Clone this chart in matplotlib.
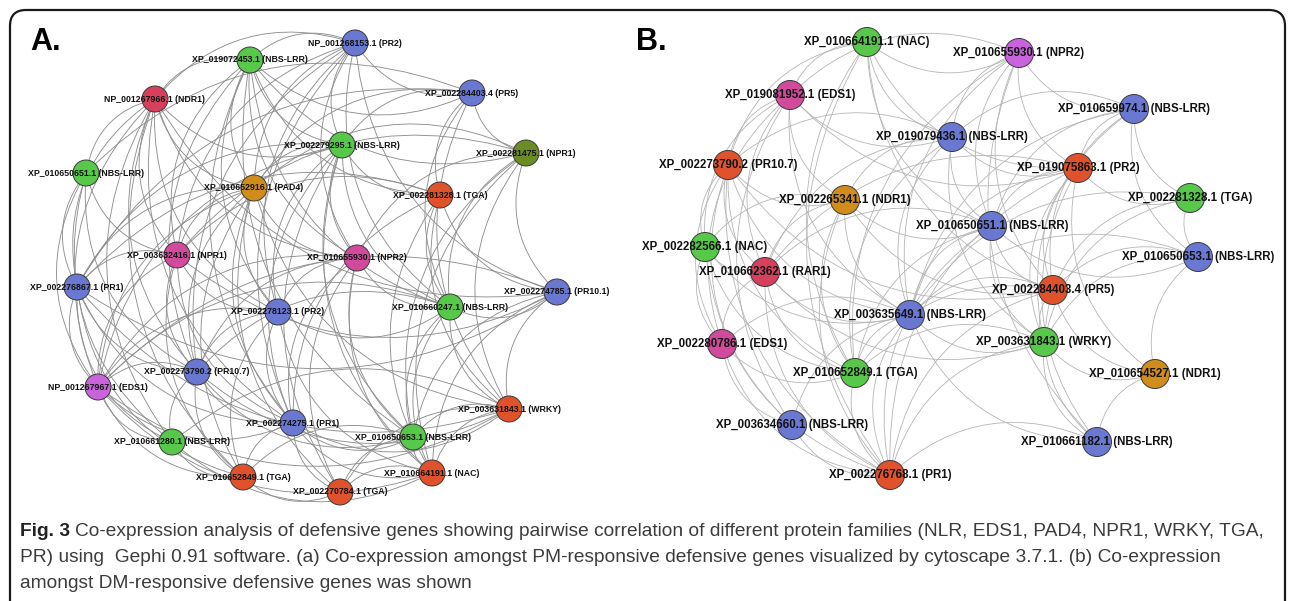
import matplotlib
matplotlib.use("Agg")
import matplotlib.pyplot as plt
from matplotlib.patches import Circle, FancyArrowPatch, FancyBboxPatch

COLORS = {
    'blue': '#6b78d2',
    'green': '#58c84a',
    'red': '#e0522c',
    'crimson': '#d6405c',
    'orange': '#d18d1c',
    'magenta': '#d14a9c',
    'violet': '#c964dc',
    'olive': '#6b8c24',
}

# ---- panel A (PM-responsive) ----
A_LABELS = ["NP_001268153.1 (PR2)", "XP_019072453.1 (NBS-LRR)", "XP_002284403.4 (PR5)",
            "NP_001267966.1 (NDR1)", "XP_002279295.1 (NBS-LRR)", "XP_002281475.1 (NPR1)",
            "XP_010650651.1 (NBS-LRR)", "XP_010652916.1 (PAD4)", "XP_002281328.1 (TGA)",
            "XP_003632416.1 (NPR1)", "XP_010655930.1 (NPR2)", "XP_002276867.1 (PR1)",
            "XP_002278123.1 (PR2)", "XP_010660247.1 (NBS-LRR)", "XP_002274785.1 (PR10.1)",
            "XP_002273790.2 (PR10.7)", "NP_001267967.1 (EDS1)", "XP_002274275.1 (PR1)",
            "XP_003631843.1 (WRKY)", "XP_010650653.1 (NBS-LRR)", "XP_010661280.1 (NBS-LRR)",
            "XP_010652849.1 (TGA)", "XP_010664191.1 (NAC)", "XP_002270784.1 (TGA)"]
A_X = [355, 250, 472, 155, 342, 526, 86, 254, 440, 177, 357, 77,
       278, 450, 557, 197, 98, 293, 509, 413, 172, 243, 432, 340]
A_Y = [43, 60, 93, 99, 145, 153, 173, 188, 195, 255, 258, 287,
       312, 307, 292, 372, 387, 423, 409, 437, 442, 477, 473, 492]
A_KIND = ['blue', 'green', 'blue', 'crimson', 'green', 'olive', 'green', 'orange',
          'red', 'magenta', 'magenta', 'blue', 'blue', 'green', 'blue', 'blue',
          'violet', 'blue', 'red', 'green', 'green', 'red', 'red', 'red']
A_EDGES = [(0, 1), (0, 2), (0, 4), (0, 3), (0, 7), (0, 10), (0, 12), (0, 14), (0, 15), (0, 17), (0, 13), (0, 9),
           (1, 3), (1, 4), (1, 7), (1, 8), (1, 10), (1, 12), (1, 13), (1, 15), (1, 17), (1, 19), (1, 2), (1, 5), (1, 9),
           (2, 4), (2, 5), (2, 8), (2, 13), (2, 6), (2, 11), (2, 18), (2, 7),
           (3, 6), (3, 7), (3, 9), (3, 11), (3, 12), (3, 15), (3, 16), (3, 17), (3, 20), (3, 21), (3, 4), (3, 10), (3, 14),
           (4, 7), (4, 8), (4, 10), (4, 12), (4, 13), (4, 17), (4, 19), (4, 22), (4, 11), (4, 16), (4, 23),
           (5, 13), (5, 14), (5, 18), (5, 19), (5, 22), (5, 10), (5, 7), (5, 9),
           (6, 11), (6, 16), (6, 15), (6, 9), (6, 20),
           (7, 9), (7, 10), (7, 12), (7, 15), (7, 16), (7, 17), (7, 21), (7, 11), (7, 18), (7, 23),
           (8, 13), (8, 14), (8, 18), (8, 22), (8, 9), (8, 11), (8, 17),
           (9, 11), (9, 15), (9, 16), (9, 12), (9, 17), (9, 14), (9, 21),
           (10, 12), (10, 13), (10, 15), (10, 17), (10, 19), (10, 22), (10, 16), (10, 23),
           (11, 16), (11, 15), (11, 17), (11, 20), (11, 14), (11, 21), (11, 18),
           (12, 15), (12, 17), (12, 13), (12, 16), (12, 21), (12, 22),
           (13, 14), (13, 18), (13, 19), (13, 22), (13, 16), (13, 15),
           (14, 18), (14, 22), (14, 16), (14, 19),
           (15, 16), (15, 17), (15, 20), (15, 21), (15, 19), (15, 18),
           (16, 17), (16, 20), (16, 21), (16, 18), (16, 22),
           (17, 19), (17, 21), (17, 22), (17, 23), (17, 18),
           (18, 19), (18, 22), (18, 20), (18, 23),
           (19, 22), (19, 21), (20, 21), (21, 23), (22, 23), (19, 23), (20, 22)]

# ---- panel B (DM-responsive) ----
B_LABELS = ["XP_010664191.1 (NAC)", "XP_010655930.1 (NPR2)", "XP_019081952.1 (EDS1)",
            "XP_010659974.1 (NBS-LRR)", "XP_019079436.1 (NBS-LRR)", "XP_002273790.2 (PR10.7)",
            "XP_019075863.1 (PR2)", "XP_002265341.1 (NDR1)", "XP_002281328.1 (TGA)",
            "XP_010650651.1 (NBS-LRR)", "XP_002282566.1 (NAC)", "XP_010650653.1 (NBS-LRR)",
            "XP_010662362.1 (RAR1)", "XP_002284403.4 (PR5)", "XP_003635649.1 (NBS-LRR)",
            "XP_002280786.1 (EDS1)", "XP_003631843.1 (WRKY)", "XP_010652849.1 (TGA)",
            "XP_010654527.1 (NDR1)", "XP_003634660.1 (NBS-LRR)", "XP_010661182.1 (NBS-LRR)",
            "XP_002276768.1 (PR1)"]
B_X = [867, 1019, 790, 1134, 952, 728, 1078, 845, 1190, 992, 705,
       1198, 765, 1053, 910, 722, 1044, 855, 1155, 792, 1097, 890]
B_Y = [42, 53, 95, 109, 137, 165, 168, 200, 198, 226, 247,
       257, 272, 290, 315, 344, 342, 373, 374, 425, 442, 475]
B_KIND = ['green', 'violet', 'magenta', 'blue', 'blue', 'red', 'red', 'orange',
          'green', 'blue', 'green', 'blue', 'crimson', 'red', 'blue', 'magenta',
          'green', 'green', 'orange', 'blue', 'blue', 'red']
B_EDGES = [(0, 2), (0, 1), (0, 4), (0, 5), (0, 9), (0, 21), (0, 13), (0, 17), (0, 6),
           (1, 4), (1, 6), (1, 3), (1, 9), (1, 13), (1, 14), (1, 17), (1, 20), (1, 2),
           (2, 5), (2, 4), (2, 7), (2, 10), (2, 12), (2, 15), (2, 14), (2, 6), (2, 19),
           (3, 6), (3, 8), (3, 13), (3, 16), (3, 14), (3, 4), (3, 9), (3, 11),
           (4, 5), (4, 7), (4, 9), (4, 6), (4, 14), (4, 12), (4, 17), (4, 16),
           (5, 10), (5, 12), (5, 15), (5, 7), (5, 14), (5, 21), (5, 17), (5, 13), (5, 19),
           (6, 8), (6, 9), (6, 13), (6, 16), (6, 20), (6, 14), (6, 21), (6, 12), (6, 18),
           (7, 9), (7, 12), (7, 14), (7, 17), (7, 21), (7, 13), (7, 10),
           (8, 11), (8, 13), (8, 16), (8, 14),
           (9, 14), (9, 13), (9, 16), (9, 17), (9, 21), (9, 12), (9, 11),
           (10, 12), (10, 15), (10, 17), (10, 14), (10, 21),
           (11, 13), (11, 18), (11, 16), (11, 14),
           (12, 15), (12, 17), (12, 14), (12, 21), (12, 16),
           (13, 16), (13, 14), (13, 18), (13, 21), (13, 20), (13, 17),
           (14, 16), (14, 17), (14, 21), (14, 20), (14, 19), (14, 15),
           (15, 19), (15, 17), (15, 21),
           (16, 18), (16, 20), (16, 21), (16, 17),
           (17, 21), (18, 20), (20, 21), (19, 21)]

CAPTION_LINES = [
    "Co-expression analysis of defensive genes showing pairwise correlation of different protein families (NLR, EDS1, PAD4, NPR1, WRKY, TGA,",
    "PR) using  Gephi 0.91 software. (a) Co-expression amongst PM-responsive defensive genes visualized by cytoscape 3.7.1. (b) Co-expression",
    "amongst DM-responsive defensive genes was shown",
]


def drawNetwork(ax, xs, ys, labels, kinds, edges, radius, edgeColor, edgeWidth, fontSize, rad):
    for i, j in edges:
        arc = FancyArrowPatch((xs[i], ys[i]), (xs[j], ys[j]),
                              arrowstyle='-', connectionstyle=f"arc3,rad={rad}",
                              shrinkA=0, shrinkB=0, lw=edgeWidth, color=edgeColor, zorder=1)
        ax.add_patch(arc)
    for x, y, label, kind in zip(xs, ys, labels, kinds):
        ax.add_patch(Circle((x, y), radius, facecolor=COLORS[kind],
                            edgecolor='#3a3a3a', lw=0.7, zorder=2))
        ax.text(x, y, label, ha='center', va='center', fontsize=fontSize,
                family='Liberation Sans', weight='bold', color='#111111', zorder=3)


fig = plt.figure(figsize=(12.95, 6.01), dpi=100)
ax = fig.add_axes([0, 0, 1, 1])
ax.set_xlim(0, 1295)
ax.set_ylim(601, 0)
ax.axis('off')

# rounded frame around the whole figure
frame = FancyBboxPatch((10, 10), 1275, 640, boxstyle="round,pad=0,rounding_size=16",
                       facecolor='none', edgecolor='#1a1a1a', lw=1.6, zorder=0)
ax.add_patch(frame)

drawNetwork(ax, A_X, A_Y, A_LABELS, A_KIND, A_EDGES, 13, '#8f8f8f', 0.65, 6.3, 0.33)
drawNetwork(ax, B_X, B_Y, B_LABELS, B_KIND, B_EDGES, 14.5, '#b5b5b5', 0.6, 8.3, 0.33)

ax.text(30, 50, "A.", fontsize=22, weight='bold', family='Liberation Sans', va='baseline')
ax.text(636, 50, "B.", fontsize=22, weight='bold', family='Liberation Sans', va='baseline')

# caption: fit the first line between x=20 and x=1262
renderer = fig.canvas.get_renderer()
capSize = 13.0
head = ax.text(20, 532, "Fig. 3", fontsize=capSize, weight='bold', family='Liberation Sans',
               color='#222222', va='center')
body = ax.text(80, 532, CAPTION_LINES[0], fontsize=capSize, family='Liberation Sans',
               color='#3c3c3c', va='center')
totalPx = head.get_window_extent(renderer).width + 5 + body.get_window_extent(renderer).width
capSize = capSize * 1242 / totalPx
head.set_fontsize(capSize)
body.set_fontsize(capSize)
headEnd = ax.transData.inverted().transform((head.get_window_extent(renderer).x1, 0))[0]
body.set_x(headEnd + 5)
ax.text(20, 558, CAPTION_LINES[1], fontsize=capSize, family='Liberation Sans', color='#3c3c3c', va='center')
ax.text(20, 584, CAPTION_LINES[2], fontsize=capSize, family='Liberation Sans', color='#3c3c3c', va='center')

fig.savefig("out.png", dpi=100)
